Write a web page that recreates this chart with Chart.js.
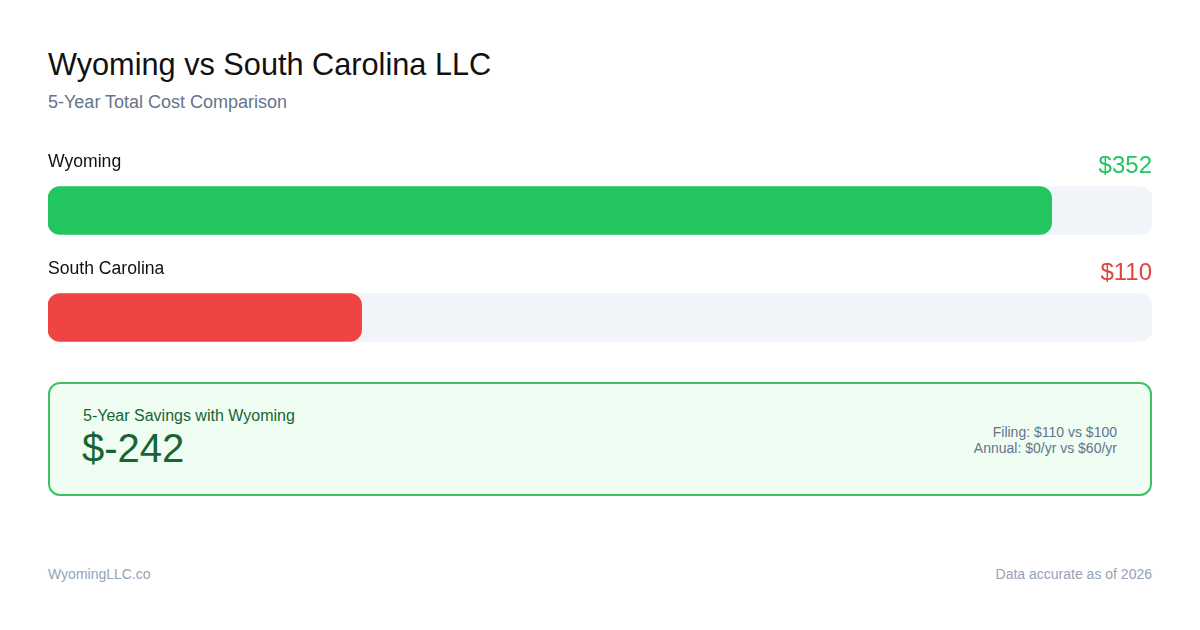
<!DOCTYPE html>
<html>
<head>
<meta charset="utf-8">
<script src="https://cdn.jsdelivr.net/npm/chart.js@4"></script>
<style>
  body { margin: 0; background: #fff; font-family: "Liberation Sans", Arial, sans-serif; }
  #page { position: relative; width: 1200px; height: 630px; overflow: hidden; }
  .abs { position: absolute; white-space: nowrap; }
  #title { left: 48px; top: 47px; font-size: 30.7px; color: #111; }
  #subtitle { left: 48px; top: 92px; font-size: 18px; color: #64748b; }
  #wrap { position: absolute; left: 48px; top: 130px; width: 1104px; height: 241px; }
  #box { position: absolute; left: 48px; top: 382px; width: 1100px; height: 110px;
         border: 2px solid #3fbf66; border-radius: 12px; background: #effdf3; }
  #boxlabel { left: 33px; top: 23px; font-size: 16px; color: #166534; }
  #boxvalue { left: 32px; top: 42px; font-size: 40px; color: #166534; }
  #details { right: 33px; top: 40px; font-size: 14px; color: #64748b; text-align: right; line-height: 16px; }
  #footl { left: 48px; top: 566px; font-size: 14px; color: #94a3b8; }
  #footr { right: 48px; top: 566px; font-size: 14px; color: #94a3b8; }
</style>
</head>
<body>
<div id="page">
  <div id="title" class="abs">Wyoming vs South Carolina LLC</div>
  <div id="subtitle" class="abs">5-Year Total Cost Comparison</div>
  <div id="wrap"><canvas id="bars"></canvas></div>
  <div id="box">
    <div id="boxlabel" class="abs">5-Year Savings with Wyoming</div>
    <div id="boxvalue" class="abs"></div>
    <div id="details" class="abs"></div>
  </div>
  <div id="footl" class="abs">WyomingLLC.co</div>
  <div id="footr" class="abs">Data accurate as of 2026</div>
</div>
<script>
const states = ['Wyoming', 'South Carolina'];
const totals = [352, 110];
const filing = ['$110', '$100'];
const annual = ['$0/yr', '$60/yr'];

const barColors = ['#22c55e', '#ef4444'];
const valueColors = ['#22c55e', '#e0453f'];
const scaleMax = Math.max(...totals) * 1.1;

document.getElementById('boxvalue').textContent = '$' + (totals[1] - totals[0]);
document.getElementById('details').innerHTML =
    'Filing: ' + filing[0] + ' vs ' + filing[1] + '<br>Annual: ' + annual[0] + ' vs ' + annual[1];

const labelPlugin = {
    id: 'rowLabels',
    afterDatasetsDraw(chart) {
        const ctx = chart.ctx;
        const meta = chart.getDatasetMeta(1);
        const area = chart.chartArea;
        ctx.save();
        meta.data.forEach((bar, i) => {
            const top = bar.y - 24;
            ctx.textBaseline = 'alphabetic';
            ctx.font = '17.6px "Liberation Sans", Arial, sans-serif';
            ctx.fillStyle = '#111';
            ctx.textAlign = 'left';
            ctx.fillText(states[i], area.left, top - 20);
            ctx.font = '24px "Liberation Sans", Arial, sans-serif';
            ctx.fillStyle = valueColors[i];
            ctx.textAlign = 'right';
            ctx.fillText('$' + totals[i], area.right, top - 14);
        });
        ctx.restore();
    }
};

new Chart(document.getElementById('bars'), {
    type: 'bar',
    data: {
        labels: states,
        datasets: [{
            data: totals.map(() => scaleMax),
            backgroundColor: '#f1f5f9',
            borderRadius: 12,
            borderSkipped: false,
            barThickness: 48,
            grouped: false,
            order: 2,
        }, {
            data: totals,
            backgroundColor: barColors,
            borderRadius: 12,
            borderSkipped: false,
            barThickness: 48,
            grouped: false,
            order: 1,
        }]
    },
    options: {
        indexAxis: 'y',
        responsive: true,
        maintainAspectRatio: false,
        animation: false,
        layout: { padding: { top: 27, left: 0, right: 0, bottom: 0 } },
        plugins: { legend: { display: false }, tooltip: { enabled: false } },
        scales: {
            x: { min: 0, max: scaleMax, display: false },
            y: { display: false }
        }
    },
    plugins: [labelPlugin]
});
</script>
</body>
</html>
